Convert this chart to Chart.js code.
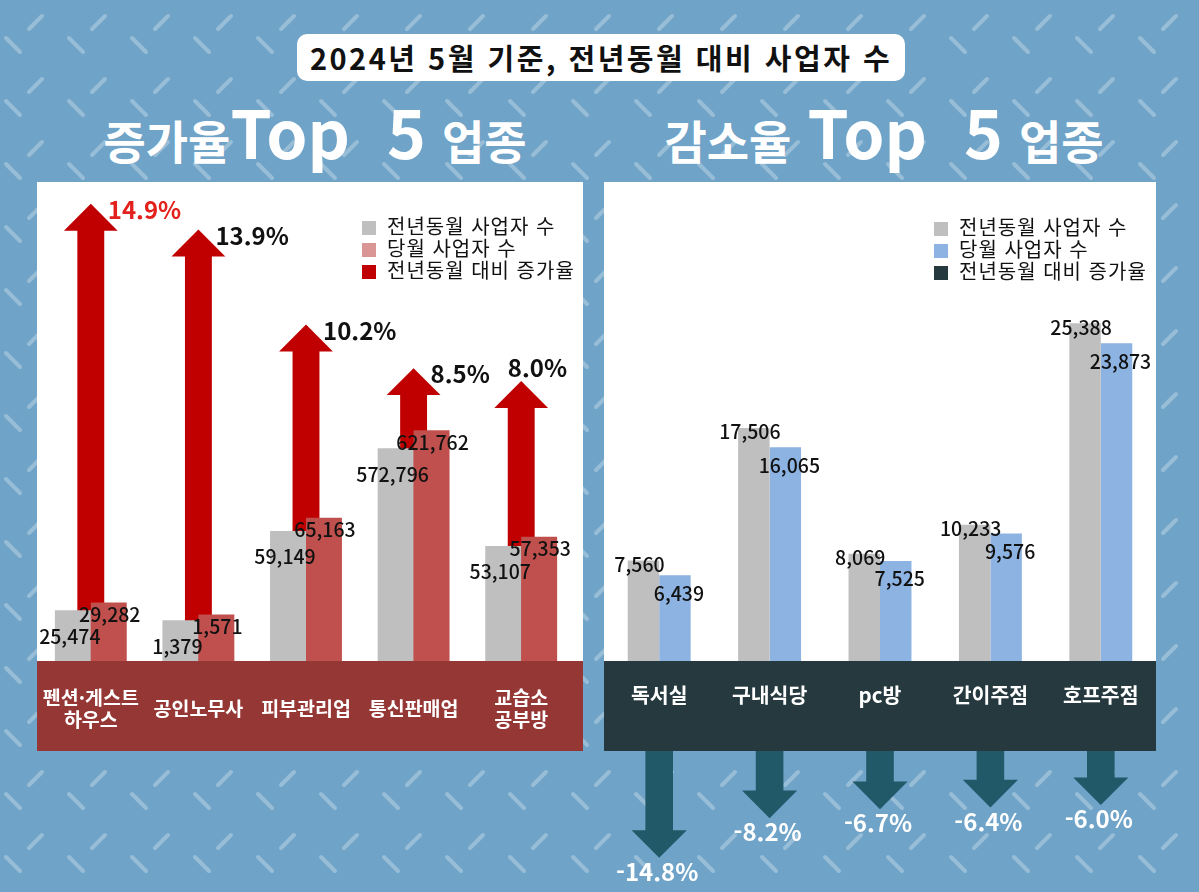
<!DOCTYPE html>
<html lang="ko">
<head>
<meta charset="utf-8">
<title>2024년 5월 기준, 전년동월 대비 사업자 수</title>
<script src="https://cdn.jsdelivr.net/npm/chart.js@4.4.1/dist/chart.umd.min.js"></script>
<style>
  html, body { margin: 0; padding: 0; }
  body {
    width: 1199px; height: 892px; position: relative; overflow: hidden;
    background-color: #6fa3c7;
    background-image: url("data:image/svg+xml,%3Csvg xmlns='http://www.w3.org/2000/svg' width='63' height='63'%3E%3Cg stroke='white' stroke-opacity='0.28' stroke-width='4' stroke-linecap='round'%3E%3Cline x1='29' y1='29' x2='42' y2='16'/%3E%3Cline x1='6' y1='38' x2='20' y2='52'/%3E%3C/g%3E%3C/svg%3E");
    font-family: 'Noto Sans CJK KR', 'Noto Sans', sans-serif;
  }
  .title {
    position: absolute; left: 297px; top: 34px; width: 608px; height: 47px;
    background: #fff; border-radius: 10px; text-align: center;
    font-size: 29px; font-weight: 700; line-height: 47px; letter-spacing: 2.5px; color: #111;
  }
  .heading {
    position: absolute; top: 90px; height: 80px; line-height: 80px;
    white-space: nowrap; color: #fff; font-weight: 700; text-align: center;
  }
  .heading .ko  { font-size: 46px; }
  .heading .big { font-size: 66px; }
  .heading .gap { display: inline-block; width: 16px; }
  .panel { position: absolute; top: 182px; height: 569px; background: #fff; }
  .axisbox { position: absolute; top: 661px; height: 90px; }
  canvas { position: absolute; }
  .legend { position: absolute; font-size: 20px; letter-spacing: 1px; color: #111; }
  .legend div { height: 22px; line-height: 22px; white-space: nowrap; }
  .legend i { display: inline-block; width: 14px; height: 14px; margin-right: 11px; vertical-align: -1px; }
</style>
</head>
<body>
<div class="title">2024년 5월 기준, 전년동월 대비 사업자 수</div>

<div class="heading" style="left:0; width:630px"><span class="ko">증가율</span><span class="big">Top&nbsp;&nbsp;5</span><span class="gap"></span><span class="ko">업종</span></div>
<div class="heading" style="left:604px; width:560px"><span class="ko">감소율</span><span class="gap"></span><span class="big">Top&nbsp;&nbsp;5</span><span class="gap"></span><span class="ko">업종</span></div>

<div class="panel" style="left:37px; width:546px"></div>
<div class="axisbox" style="left:37px; width:546px; background:#953735"></div>
<div class="panel" style="left:604px; width:552px"></div>
<div class="axisbox" style="left:604px; width:552px; background:#25393f"></div>

<canvas id="incChart" width="546" height="569" style="left:37px; top:182px"></canvas>
<canvas id="decChart" width="552" height="569" style="left:604px; top:182px"></canvas>
<canvas id="decArrows" width="552" height="141" style="left:604px; top:751px"></canvas>

<div class="legend" style="left:362px; top:215px">
  <div><i style="background:#bfbfbf"></i>전년동월 사업자 수</div>
  <div><i style="background:#d99694"></i>당월 사업자 수</div>
  <div><i style="background:#c00000"></i>전년동월 대비 증가율</div>
</div>
<div class="legend" style="left:934px; top:216px">
  <div><i style="background:#bfbfbf"></i>전년동월 사업자 수</div>
  <div><i style="background:#8db3e2"></i>당월 사업자 수</div>
  <div><i style="background:#25393f"></i>전년동월 대비 증가율</div>
</div>

<script>
// ── Data ──────────────────────────────────────────────────────
const incCategories = [['펜션·게스트', '하우스'], '공인노무사', '피부관리업', '통신판매업', ['교습소', '공부방']];
const incPrev = [25474, 1379, 59149, 572796, 53107];
const incCurr = [29282, 1571, 65163, 621762, 57353];
const incRate = [14.9, 13.9, 10.2, 8.5, 8.0];
// the original draws every category on its own scale
const incAxisMax = [240000, 16200, 218000, 1290000, 221000];

const decCategories = ['독서실', '구내식당', 'pc방', '간이주점', '호프주점'];
const decPrev = [7560, 17506, 8069, 10233, 25388];
const decCurr = [6439, 16065, 7525, 9576, 23873];
const decRate = [-14.8, -8.2, -6.7, -6.4, -6.0];

// ── Style ─────────────────────────────────────────────────────
const GRAY = '#bfbfbf';
const PINK = '#c0504d';
const RED  = '#c00000';
const BLUE = '#8db3e2';
const TEAL = '#215968';
const FONT = "'Noto Sans CJK KR', 'Noto Sans', sans-serif";

Chart.defaults.font.family = FONT;
Chart.defaults.animation = false;

// ── Helpers ───────────────────────────────────────────────────
function drawArrow(ctx, x, tipY, baseY, w) {
    const dir = baseY > tipY ? 1 : -1;
    const head = w / 2;
    const s = w / 4;
    ctx.beginPath();
    ctx.moveTo(x - s, baseY);
    ctx.lineTo(x - s, tipY + dir * head);
    ctx.lineTo(x - w / 2, tipY + dir * head);
    ctx.lineTo(x, tipY);
    ctx.lineTo(x + w / 2, tipY + dir * head);
    ctx.lineTo(x + s, tipY + dir * head);
    ctx.lineTo(x + s, baseY);
    ctx.closePath();
    ctx.fill();
}

const arrowPlugin = {
    id: 'arrows',
    afterDatasetDraw(chart, args) {
        const ds = chart.data.datasets[args.index];
        if (ds.kind !== 'rate') return;
        const ctx = chart.ctx;
        const area = chart.chartArea;
        ctx.save();
        ctx.fillStyle = ds.arrowColor;
        args.meta.data.forEach(el => {
            const base = el.y < el.base ? area.bottom : area.top;
            drawArrow(ctx, el.x, el.y, base, el.width);
        });
        ctx.restore();
    },
    afterDatasetsDraw(chart) {
        const ctx = chart.ctx;
        const area = chart.chartArea;
        ctx.save();
        ctx.textAlign = 'center';
        ctx.textBaseline = 'middle';
        chart.data.datasets.forEach((ds, di) => {
            const meta = chart.getDatasetMeta(di);
            meta.data.forEach((el, i) => {
                const v = ds.data[i];
                if (v === null || v === undefined) return;
                if (ds.kind === 'rate') {
                    const text = v.toFixed(1) + '%';
                    ctx.font = `700 24px ${FONT}`;
                    if (v > 0) {
                        ctx.fillStyle = v === Math.max(...incRate) ? '#e3211c' : '#111';
                        const w = ctx.measureText(text).width;
                        let left = el.x + 17, y = el.y + 6;
                        if (left + w > area.right - 8) { left = area.right - 8 - w; y = el.y - 13; }
                        ctx.textAlign = 'left';
                        ctx.fillText(text, left, y);
                        ctx.textAlign = 'center';
                    } else {
                        ctx.fillStyle = '#fff';
                        ctx.fillText(text, el.x - 2, el.y + 14);
                    }
                } else {
                    ctx.font = `500 19.5px ${FONT}`;
                    ctx.fillStyle = '#111';
                    const [dx, dy] = ds.labelShift;
                    ctx.fillText(v.toLocaleString('en-US'), el.x + dx, el.y + dy);
                }
            });
        });
        ctx.restore();
    }
};

function categoryAxis(labels, size, pad) {
    return {
        type: 'category',
        labels,
        grid: { display: false, drawTicks: false },
        border: { display: false },
        ticks: {
            color: '#fff',
            font: { size, weight: '700', lineHeight: 22 / size },
            maxRotation: 0,
            autoSkip: false,
            crossAlign: 'center',
            padding: pad
        },
        // fixed box height, and no side padding from the tick labels
        afterFit: scale => {
            scale.height = 90;
            scale.paddingLeft = 0;
            scale.paddingRight = 0;
        }
    };
}

// ── Increase chart ────────────────────────────────────────────
const incDatasets = [{
    kind: 'rate',
    data: incRate,
    yAxisID: 'rate',
    grouped: false,
    order: 1,
    categoryPercentage: 0.5,
    barPercentage: 1,
    backgroundColor: 'transparent',
    arrowColor: RED
}];
const incScales = {
    x: categoryAxis(incCategories, 19.5, 37),
    rate: { type: 'linear', display: false, min: -2.9, max: 15.75 }
};
incCategories.forEach((_, i) => {
    incScales['c' + i] = { type: 'linear', display: false, min: 0, max: incAxisMax[i] };
    incDatasets.push({
        kind: 'prev', label: '전년동월 사업자 수', yAxisID: 'c' + i,
        data: incPrev.map((v, j) => (j === i ? v : null)),
        backgroundColor: GRAY, labelShift: [-3, 26]
    });
    incDatasets.push({
        kind: 'curr', label: '당월 사업자 수', yAxisID: 'c' + i,
        data: incCurr.map((v, j) => (j === i ? v : null)),
        backgroundColor: PINK, labelShift: [1, 12]
    });
});

new Chart(document.getElementById('incChart'), {
    type: 'bar',
    data: { labels: incCategories, datasets: incDatasets },
    options: {
        responsive: false,
        skipNull: true,
        categoryPercentage: 0.668,
        barPercentage: 1,
        layout: { padding: { left: 0, right: 8, top: 0, bottom: 0 } },
        plugins: { legend: { display: false }, tooltip: { enabled: false } },
        scales: incScales
    },
    plugins: [arrowPlugin]
});

// ── Decrease chart ────────────────────────────────────────────
new Chart(document.getElementById('decChart'), {
    type: 'bar',
    data: {
        labels: decCategories,
        datasets: [
            { kind: 'prev', label: '전년동월 사업자 수', data: decPrev, backgroundColor: GRAY, labelShift: [-4, 4] },
            { kind: 'curr', label: '당월 사업자 수', data: decCurr, backgroundColor: BLUE, labelShift: [4, 18] }
        ]
    },
    options: {
        responsive: false,
        categoryPercentage: 0.57,
        barPercentage: 1,
        layout: { padding: 0 },
        plugins: { legend: { display: false }, tooltip: { enabled: false } },
        scales: {
            x: categoryAxis(decCategories, 20.5, 34),
            y: { display: false, min: 0, max: 36000 }
        }
    },
    plugins: [arrowPlugin]
});

// ── Decrease arrows (below the category box) ──────────────────
new Chart(document.getElementById('decArrows'), {
    type: 'bar',
    data: {
        labels: decCategories,
        datasets: [{
            kind: 'rate', label: '전년동월 대비 증가율', data: decRate,
            categoryPercentage: 0.5, barPercentage: 1,
            backgroundColor: 'transparent', arrowColor: TEAL
        }]
    },
    options: {
        responsive: false,
        layout: { padding: 0 },
        plugins: { legend: { display: false }, tooltip: { enabled: false } },
        scales: {
            x: { display: false },
            y: { display: false, min: -20.5, max: 3 }
        }
    },
    plugins: [arrowPlugin]
});
</script>
</body>
</html>
